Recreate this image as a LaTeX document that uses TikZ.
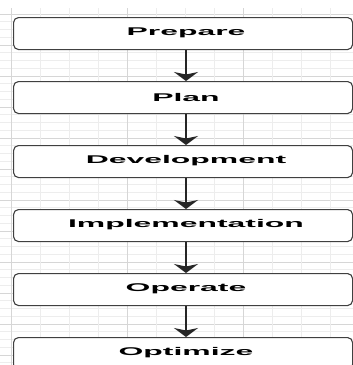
\documentclass[tikz,border=0pt]{standalone}
\usepackage{fontspec}
\setmainfont{Liberation Sans}
\usetikzlibrary{arrows.meta}
\tikzset{
  minorgrid/.style={draw=black!7, line width=0.8pt},
  majorgrid/.style={draw=black!16, line width=0.9pt},
  stepbox/.style={draw=black!75, line width=1.1pt, fill=white, rounded corners=5pt,
    minimum width=339pt, minimum height=32pt, inner sep=0pt, anchor=north west},
  steptext/.style={font=\fontsize{11.2}{13}\selectfont\bfseries, text=black},
  flow/.style={draw=black!85, line width=1.8pt, -{Stealth[width=24pt,length=9pt,inset=2.5pt]}}
}
\newcommand{\stxt}[1]{\scalebox{2.85}[1]{#1}}
\begin{document}
\begin{tikzpicture}[x=1pt,y=-1pt]
\useasboundingbox (0,0) rectangle (353,365);
\fill[white] (0,0) rectangle (353,365);
% grid
\foreach \k in {0,...,45} {
  \pgfmathsetmacro{\yy}{14+7.75*\k}
  \pgfmathtruncatemacro{\mm}{mod(\k,4)}
  \ifnum\mm=0
    \draw[majorgrid] (0,\yy) -- (353,\yy);
  \else
    \draw[minorgrid] (0,\yy) -- (353,\yy);
  \fi
}
\foreach \k in {0,...,11} {
  \pgfmathsetmacro{\xx}{11+29*\k}
  \pgfmathtruncatemacro{\mm}{mod(\k,4)}
  \ifnum\mm=0
    \draw[majorgrid] (\xx,8) -- (\xx,365);
  \else
    \draw[minorgrid] (\xx,8) -- (\xx,365);
  \fi
}
% boxes
\node[stepbox] (b1) at (13,17) {};
\node[stepbox] (b2) at (13,81) {};
\node[stepbox] (b3) at (13,145) {};
\node[stepbox] (b4) at (13,209) {};
\node[stepbox] (b5) at (13,273) {};
\node[stepbox] (b6) at (13,337) {};
% labels
\node[steptext] (t1) at (186,33) {\stxt{Prepare}};
\node[steptext] (t2) at (186,97) {\stxt{Plan}};
\node[steptext] (t3) at (186,161) {\stxt{Development}};
\node[steptext] (t4) at (186,225) {\stxt{Implementation}};
\node[steptext] (t5) at (186,289) {\stxt{Operate}};
\node[steptext] (t6) at (186,353) {\stxt{Optimize}};
% connectors
\foreach \a/\b in {b1/b2,b2/b3,b3/b4,b4/b5,b5/b6} {
  \draw[flow] (\a.south west) ++(173,0) coordinate (s\a) -- (s\a |- \b.north);
}
\end{tikzpicture}
\end{document}
